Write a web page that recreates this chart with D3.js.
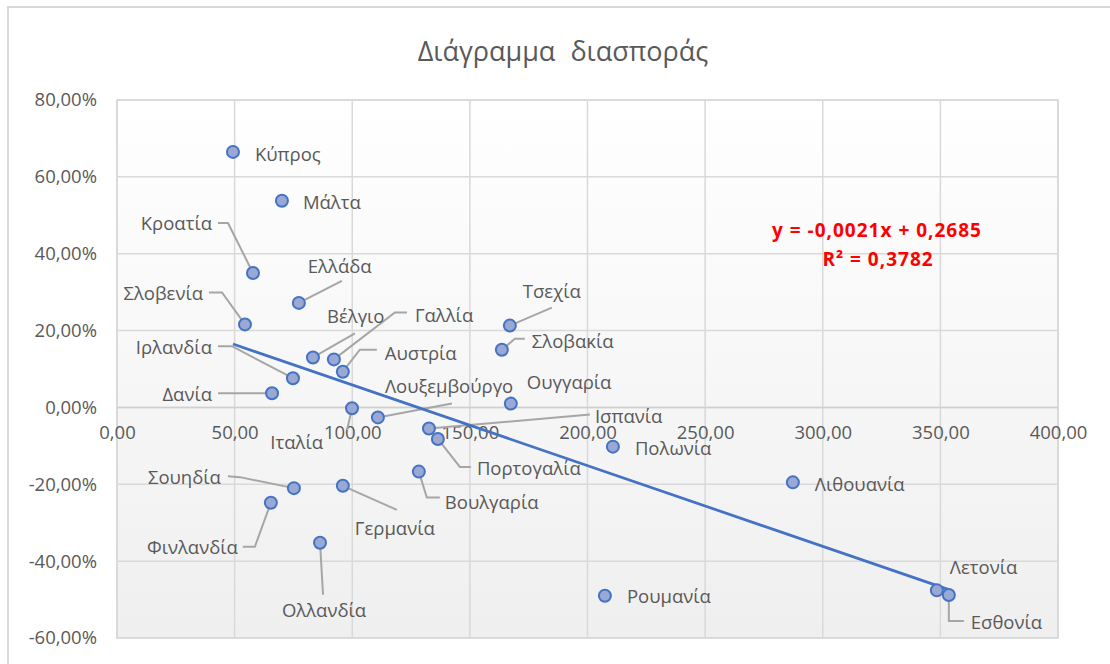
<!DOCTYPE html>
<html>
<head>
<meta charset="utf-8">
<script src="https://cdn.jsdelivr.net/npm/d3@7"></script>
<style>
  html, body { margin: 0; padding: 0; background: #ffffff; }
  svg { display: block; }
  text { font-family: "Open Sans", "Noto Sans", sans-serif; }
</style>
</head>
<body>
<svg id="chart" width="1110" height="664"></svg>
<script>
// Countries and their (x, y) values; y is a share (0.10 = 10%)
const countries = ["Κύπρος", "Μάλτα", "Κροατία", "Ελλάδα", "Σλοβενία", "Βέλγιο", "Γαλλία",
  "Αυστρία", "Ιρλανδία", "Δανία", "Ιταλία", "Λουξεμβούργο", "Ισπανία", "Πορτογαλία",
  "Ουγγαρία", "Τσεχία", "Σλοβακία", "Πολωνία", "Βουλγαρία", "Γερμανία", "Σουηδία",
  "Φινλανδία", "Ολλανδία", "Λιθουανία", "Ρουμανία", "Λετονία", "Εσθονία"];
const xValues = [49.3, 70.1, 57.8, 77.3, 54.4, 83.3, 92.2,
  96.0, 74.8, 65.9, 99.9, 110.9, 132.6, 136.4,
  167.4, 167.0, 163.6, 210.8, 128.3, 96.0, 75.2,
  65.4, 86.3, 287.3, 207.4, 348.5, 353.6];
const yValues = [0.665, 0.538, 0.350, 0.272, 0.216, 0.130, 0.125,
  0.093, 0.076, 0.037, -0.002, -0.026, -0.055, -0.082,
  0.010, 0.213, 0.150, -0.102, -0.167, -0.204, -0.210,
  -0.248, -0.352, -0.195, -0.490, -0.476, -0.488];

// Linear trendline
const trendSlope = -0.0021;
const trendIntercept = 0.2685;
const trendR2 = 0.3782;

// Axis ticks
const xTicks = [0, 50, 100, 150, 200, 250, 300, 350, 400];
const yTicks = [-0.6, -0.4, -0.2, 0, 0.2, 0.4, 0.6, 0.8];

const chartTitle = "Διάγραμμα διασποράς";

// Label placement: text offset from the marker, anchor, and leader-line bends (px)
const labelLayout = {
  "Κύπρος":       { dx: 22,  dy: 2,   anchor: "start" },
  "Μάλτα":        { dx: 21,  dy: 1,   anchor: "start" },
  "Κροατία":      { dx: -41, dy: -50, anchor: "end",   leader: [[-25, -50], [-35, -50]] },
  "Ελλάδα":       { dx: 9,   dy: -37, anchor: "start", leader: [[43, -22]] },
  "Σλοβενία":     { dx: -42, dy: -32, anchor: "end",   leader: [[-23, -32], [-36, -32]] },
  "Βέλγιο":       { dx: 14,  dy: -42, anchor: "start", leader: [[42, -24]] },
  "Γαλλία":       { dx: 81,  dy: -45, anchor: "start", leader: [[61, -47], [73, -47]] },
  "Αυστρία":      { dx: 42,  dy: -19, anchor: "start", leader: [[17, -22], [34, -22]] },
  "Ιρλανδία":     { dx: -81, dy: -32, anchor: "end",   leader: [[-61, -32], [-75, -32]] },
  "Δανία":        { dx: -60, dy: 0,   anchor: "end",   leader: [[-54, 0]] },
  "Ιταλία":       { dx: -29, dy: 33,  anchor: "end",   leader: [[-5, 22]] },
  "Λουξεμβούργο": { dx: 7,   dy: -32, anchor: "start", leader: [[74, -14]] },
  "Ισπανία":      { dx: 166, dy: -13, anchor: "start", leader: [[161, -14]] },
  "Πορτογαλία":   { dx: 39,  dy: 29,  anchor: "start", leader: [[22, 28], [33, 28]] },
  "Ουγγαρία":     { dx: 16,  dy: -22, anchor: "start" },
  "Τσεχία":       { dx: 13,  dy: -35, anchor: "start", leader: [[42, -18]] },
  "Σλοβακία":     { dx: 30,  dy: -9,  anchor: "start", leader: [[13, -11], [23, -11]] },
  "Πολωνία":      { dx: 22,  dy: 1,   anchor: "start" },
  "Βουλγαρία":    { dx: 26,  dy: 30,  anchor: "start", leader: [[8, 26], [21, 26]] },
  "Γερμανία":     { dx: 12,  dy: 42,  anchor: "start", leader: [[54, 24]] },
  "Σουηδία":      { dx: -73, dy: -12, anchor: "end",   leader: [[-54, -11], [-66, -12]] },
  "Φινλανδία":    { dx: -33, dy: 44,  anchor: "end",   leader: [[-16, 44], [-28, 44]] },
  "Ολλανδία":     { dx: 4,   dy: 67,  anchor: "middle", leader: [[3, 52]] },
  "Λιθουανία":    { dx: 22,  dy: 1,   anchor: "start" },
  "Ρουμανία":     { dx: 22,  dy: 0,   anchor: "start" },
  "Λετονία":      { dx: 13,  dy: -24, anchor: "start" },
  "Εσθονία":      { dx: 22,  dy: 27,  anchor: "start", leader: [[0, 26], [15, 26]] }
};

const points = countries.map((name, i) => ({ name, x: xValues[i], y: yValues[i] }));

const svg = d3.select("#chart");
const plot = { left: 117, right: 1058, top: 100, bottom: 638 };

const x = d3.scaleLinear().domain([0, 400]).range([plot.left, plot.right]);
const y = d3.scaleLinear().domain([-0.6, 0.8]).range([plot.bottom, plot.top]);

const grey = "#595959";
const labelSize = "18.5px";
const fmtNum = v => v.toFixed(2).replace(".", ",");
const fmtPct = v => (v * 100).toFixed(2).replace(".", ",") + "%";

// Chart frame
svg.append("rect")
  .attr("x", 8).attr("y", 7).attr("width", 1120).attr("height", 700)
  .attr("fill", "#ffffff").attr("stroke", "#d9d9d9").attr("stroke-width", 2);

// Plot area background
const defs = svg.append("defs");
const grad = defs.append("linearGradient").attr("id", "plotBg")
  .attr("x1", 0).attr("y1", 0).attr("x2", 0).attr("y2", 1);
grad.append("stop").attr("offset", "0%").attr("stop-color", "#ffffff");
grad.append("stop").attr("offset", "100%").attr("stop-color", "#efefef");

svg.append("rect")
  .attr("x", plot.left).attr("y", plot.top)
  .attr("width", plot.right - plot.left).attr("height", plot.bottom - plot.top)
  .attr("fill", "url(#plotBg)")
  .attr("stroke", "#d4d4d4").attr("stroke-width", 1.5);

// Gridlines
const grid = svg.append("g").attr("stroke", "#d9d9d9").attr("stroke-width", 1.5);
grid.selectAll("line.v").data(xTicks).join("line")
  .attr("x1", d => x(d)).attr("x2", d => x(d))
  .attr("y1", plot.top).attr("y2", plot.bottom);
grid.selectAll("line.h").data(yTicks).join("line")
  .attr("x1", plot.left).attr("x2", plot.right)
  .attr("y1", d => y(d)).attr("y2", d => y(d));

// Horizontal axis crossing at 0%
svg.append("line")
  .attr("x1", plot.left).attr("x2", plot.right)
  .attr("y1", y(0)).attr("y2", y(0))
  .attr("stroke", "#cfcfcf").attr("stroke-width", 1.5);

// Y axis labels
const yAxis = d3.axisLeft(y).tickValues(yTicks).tickFormat(fmtPct).tickSize(0).tickPadding(20);
const yg = svg.append("g").attr("transform", `translate(${plot.left},0)`).call(yAxis);
yg.select(".domain").remove();
yg.selectAll("text").attr("fill", grey).style("font-size", labelSize)
  .style("font-family", "'Open Sans', sans-serif");

// X axis labels just below the 0% line
const xAxis = d3.axisBottom(x).tickValues(xTicks).tickFormat(fmtNum).tickSize(0).tickPadding(18);
const xg = svg.append("g").attr("transform", `translate(0,${y(0)})`).call(xAxis);
xg.select(".domain").remove();
xg.selectAll("text").attr("fill", grey).style("font-size", labelSize)
  .style("font-family", "'Open Sans', sans-serif");

// Leader lines
const leaders = svg.append("g").attr("fill", "none").attr("stroke", "#a6a6a6").attr("stroke-width", 2);
points.forEach(p => {
  const L = labelLayout[p.name];
  if (!L || !L.leader) return;
  const px = x(p.x), py = y(p.y);
  const pts = [[px, py]].concat(L.leader.map(([a, b]) => [px + a, py + b]));
  leaders.append("path").attr("d", d3.line()(pts));
});

// Trendline over the data range
const [xMin, xMax] = d3.extent(xValues);
svg.append("line")
  .attr("x1", x(xMin)).attr("y1", y(trendSlope * xMin + trendIntercept))
  .attr("x2", x(xMax)).attr("y2", y(trendSlope * xMax + trendIntercept))
  .attr("stroke", "#4472c4").attr("stroke-width", 2.75);

// Markers
svg.append("g").selectAll("circle").data(points).join("circle")
  .attr("cx", d => x(d.x)).attr("cy", d => y(d.y)).attr("r", 6)
  .attr("fill", "#9aa8d4").attr("stroke", "#4472c4").attr("stroke-width", 2);

// Data labels
svg.append("g").selectAll("text").data(points).join("text")
  .attr("x", d => x(d.x) + labelLayout[d.name].dx)
  .attr("y", d => y(d.y) + labelLayout[d.name].dy)
  .attr("text-anchor", d => labelLayout[d.name].anchor)
  .attr("dominant-baseline", "central")
  .attr("fill", grey).style("font-size", labelSize)
  .text(d => d.name);

// Trendline equation
const eq = svg.append("g").attr("fill", "#ff0000").style("font-weight", "bold")
  .style("font-size", "19px").style("letter-spacing", "1px");
eq.append("text").attr("x", 877).attr("y", 230).attr("text-anchor", "middle")
  .attr("dominant-baseline", "central")
  .text(`y = ${String(trendSlope).replace(".", ",")}x + ${String(trendIntercept).replace(".", ",")}`);
eq.append("text").attr("x", 878).attr("y", 259).attr("text-anchor", "middle")
  .attr("dominant-baseline", "central")
  .text("R² = " + String(trendR2).replace(".", ","));

// Title
svg.append("text")
  .attr("x", 563).attr("y", 50).attr("text-anchor", "middle")
  .attr("dominant-baseline", "central")
  .attr("fill", grey).style("font-size", "27px").style("word-spacing", "8px")
  .text(chartTitle);
</script>
</body>
</html>
